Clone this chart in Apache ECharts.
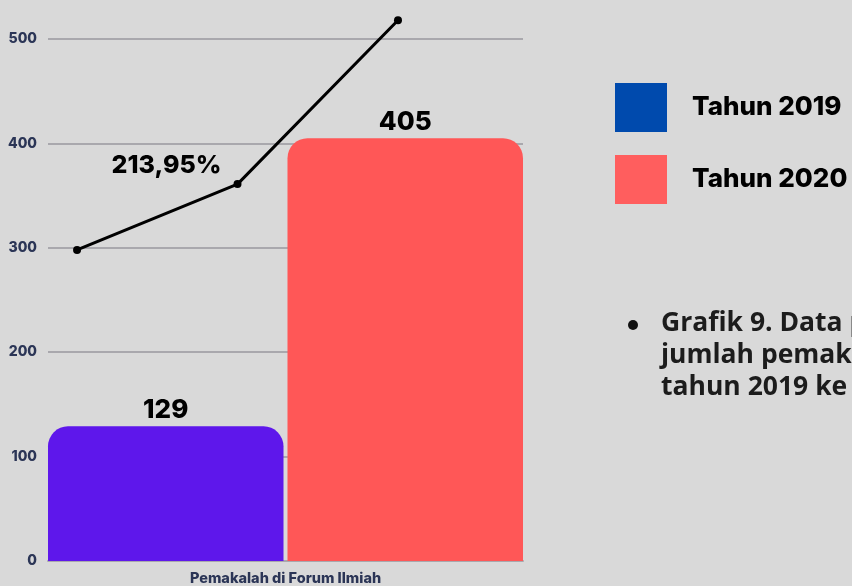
<!DOCTYPE html>
<html>
<head>
<meta charset="utf-8">
<script src="https://cdn.jsdelivr.net/npm/echarts@6/dist/echarts.min.js"></script>
<style>
  html, body { margin: 0; padding: 0; background: #d9d9d9; }
  #chart { width: 852px; height: 586px; }
</style>
</head>
<body>
<div id="chart"></div>
<script>
// data
var categories = ['Pemakalah di Forum Ilmiah']
var seriesNames = ['Tahun 2019', 'Tahun 2020']
var values2019 = [129]
var values2020 = [405]
var lineX = [1, 2, 3]
var lineValues = [298, 361, 518]
var lineLabel = '213,95%'
var yTicks = [0, 100, 200, 300, 400, 500]
var noteText = 'Grafik 9. Data perbandingan\njumlah pemakalah dari\ntahun 2019 ke 2020'

var font = 'Inter'
var heavy = 800
var axisColor = '#2b3556'

var chart = echarts.init(document.getElementById('chart'))

var option = {
  backgroundColor: '#d9d9d9',
  animation: false,
  grid: {
    left: 48,
    right: 329,
    top: 39,
    bottom: 25
  },
  legend: {
    orient: 'vertical',
    left: 610,
    top: 78,
    itemWidth: 52,
    itemHeight: 49,
    itemGap: 23,
    icon: 'rect',
    selectedMode: false,
    textStyle: {
      fontFamily: font,
      fontWeight: heavy,
      fontSize: 26,
      color: '#000',
      padding: [0, 0, 0, 20]
    },
    data: [
      { name: seriesNames[0], itemStyle: { color: '#004aad' } },
      { name: seriesNames[1], itemStyle: { color: '#ff5e5e' } }
    ]
  },
  xAxis: [
    {
      type: 'category',
      data: categories,
      axisTick: { show: false },
      axisLine: { lineStyle: { color: '#a9a8ad', width: 2 } },
      axisLabel: {
        margin: 10,
        fontFamily: font,
        fontWeight: heavy,
        fontSize: 14.5,
        color: axisColor
      }
    },
    {
      type: 'value',
      show: false,
      min: 0.819,
      max: 3.779
    }
  ],
  yAxis: {
    type: 'value',
    min: yTicks[0],
    max: yTicks[yTicks.length - 1],
    interval: 100,
    axisLine: { show: false },
    axisTick: { show: false },
    axisLabel: {
      margin: 11,
      fontFamily: font,
      fontWeight: heavy,
      fontSize: 14,
      color: axisColor
    },
    splitLine: { lineStyle: { color: '#a9a8ad', width: 2 } }
  },
  series: [
    {
      name: seriesNames[0],
      type: 'bar',
      data: values2019,
      barCategoryGap: '0%',
      barGap: '1.7%',
      itemStyle: { color: '#5e17eb', borderRadius: [20, 20, 0, 0] },
      label: {
        show: true,
        position: 'top',
        distance: 3,
        fontFamily: font,
        fontWeight: heavy,
        fontSize: 26,
        color: '#000'
      }
    },
    {
      name: seriesNames[1],
      type: 'bar',
      data: values2020,
      itemStyle: { color: '#ff5757', borderRadius: [20, 20, 0, 0] },
      label: {
        show: true,
        position: 'top',
        distance: 3,
        fontFamily: font,
        fontWeight: heavy,
        fontSize: 26,
        color: '#000'
      }
    },
    {
      type: 'line',
      xAxisIndex: 1,
      yAxisIndex: 0,
      clip: false,
      z: 5,
      symbol: 'circle',
      symbolSize: 8,
      itemStyle: { color: '#000' },
      lineStyle: { color: '#000', width: 3 },
      data: lineX.map(function (x, i) {
        var d = { value: [x, lineValues[i]] }
        if (i === 1) {
          d.label = {
            show: true,
            position: 'left',
            distance: 12,
            offset: [0, -19],
            formatter: lineLabel,
            fontFamily: font,
            fontWeight: heavy,
            fontSize: 25,
            color: '#000'
          }
        }
        return d
      })
    }
  ],
  graphic: [
    {
      type: 'circle',
      left: 628,
      top: 320,
      shape: { r: 5 },
      style: { fill: '#111' }
    },
    {
      type: 'text',
      left: 661,
      top: 307,
      style: {
        text: noteText,
        fontFamily: 'Open Sans',
        fontWeight: 700,
        fontSize: 26.5,
        lineHeight: 32,
        fill: '#1c1c1c'
      }
    }
  ]
}

chart.setOption(option)
</script>
</body>
</html>
